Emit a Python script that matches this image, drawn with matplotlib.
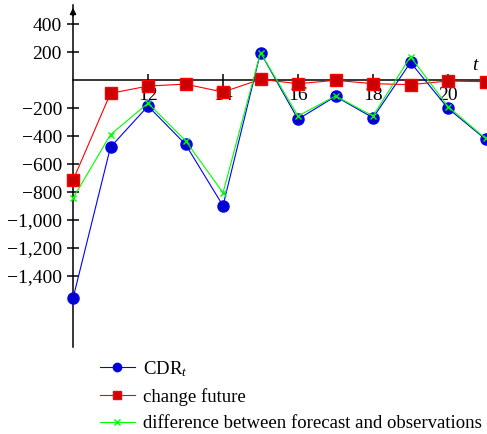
import matplotlib
matplotlib.use("Agg")
import matplotlib.pyplot as plt
from matplotlib.ticker import FuncFormatter, FixedLocator

plt.rcParams["font.family"] = "Liberation Serif"
plt.rcParams["mathtext.fontset"] = "custom"
plt.rcParams["mathtext.rm"] = "Liberation Serif"
plt.rcParams["mathtext.it"] = "Liberation Serif:italic"

# time index and the three series
t = [10, 11, 12, 13, 14, 15, 16, 17, 18, 19, 20, 21]
cdr = [-1560, -479, -186, -459, -898, 196, -280, -117, -270, 126, -202, -423]
change_future = [-716, -95, -43, -29, -86, 5, -26, -2, -26, -33, -7, -12]
diff_forecast = [-845, -390, -165, -433, -805, 196, -257, -114, -257, 167, -190, -417]

y_ticks = [400, 200, -200, -400, -600, -800, -1000, -1200, -1400]
x_ticks = [12, 14, 16, 18, 20]

fig = plt.figure(figsize=(4.87, 4.34), dpi=100)
ax = fig.add_axes([73 / 487, 87 / 434, 414 / 487, 342 / 434])

ax.plot(t, cdr, color="#0000ff", lw=0.8, marker="o", ms=8,
        mfc="#0000cc", mec="#0000ff", label=r"CDR$_t$", clip_on=False, zorder=3)
ax.plot(t, change_future, color="#ff0000", lw=0.8, marker="s", ms=8,
        mfc="#cc0000", mec="#ff0000", label="change future", clip_on=False, zorder=3)
ax.plot(t, diff_forecast, color="#00ff00", lw=0.8, marker="x", ms=5, mew=1,
        label="difference between forecast and observations", clip_on=False, zorder=4)

ax.set_xlim(10, 10 + 414 / 37.5)
ax.set_ylim(-1907, 536)

# axis lines through the origin, pgfplots style
ax.spines["top"].set_visible(False)
ax.spines["right"].set_visible(False)
ax.spines["bottom"].set_position(("data", 0))
ax.spines["left"].set_position(("data", 10))
for s in ("left", "bottom"):
    ax.spines[s].set_linewidth(1.1)

ax.xaxis.set_major_locator(FixedLocator(x_ticks))
ax.yaxis.set_major_locator(FixedLocator(y_ticks))
ax.yaxis.set_major_formatter(FuncFormatter(lambda v, p: f"{int(v):,}".replace("-", "\u2212")))
ax.tick_params(direction="inout", length=8, width=1.1, labelsize=14)
ax.tick_params(axis="y", pad=4)
ax.tick_params(axis="x", pad=1)

ax.annotate("", xy=(0, 1.0), xytext=(0, 0.96), xycoords="axes fraction",
            arrowprops=dict(arrowstyle="-|>", color="black", lw=1.1,
                            mutation_scale=9))
ax.text((476 - 73) / 414, (434 - 66 - 87) / 342, "$t$",
        transform=ax.transAxes, fontsize=14, ha="center", va="center")

fig.legend(loc="upper left", bbox_to_anchor=(100 / 487, 1 - 359 / 434),
           frameon=False, fontsize=13.5, handlelength=1.85, handletextpad=0.45,
           labelspacing=0.5, borderpad=0, borderaxespad=0, markerscale=0.75)

fig.savefig("out.png", dpi=100)
